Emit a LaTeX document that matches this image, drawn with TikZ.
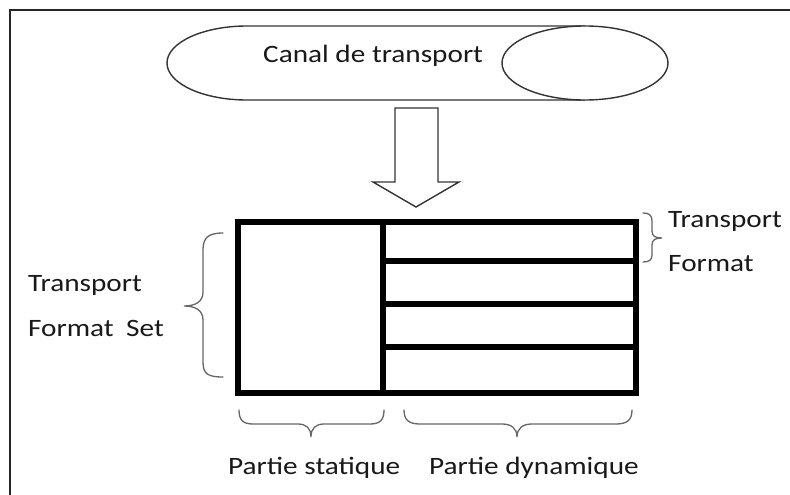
\documentclass[tikz,border=0pt]{standalone}
\usepackage{fontspec}
\setmainfont{Carlito}[FakeStretch=1.17]
\usetikzlibrary{shapes.geometric}
\begin{document}
\begin{tikzpicture}[x=1pt,y=-1pt,
  frameline/.style={line width=2.5pt, draw=black!85},
  outline/.style={line width=1.4pt, draw=black!80},
  boxline/.style={line width=6.2pt, draw=black},
  bracepath/.style={line width=1.3pt, draw=black!60, line cap=round},
  lbl/.style={font=\fontsize{25}{30}\selectfont, inner sep=0pt, anchor=base west, text=black!90},
]
\useasboundingbox (0,0) rectangle (790,495);
\fill[white] (0,0) rectangle (790,495);
% frame
\draw[frameline] (10,495) -- (10,10) -- (790,10);
% cylinder
\draw[outline, fill=white] (585,26) -- (247,26)
  arc[start angle=270, end angle=90, x radius=80, y radius=37] -- (585,100);
\node[ellipse, outline, fill=white, minimum width=166pt, minimum height=74pt, inner sep=0pt] (cap) at (585,63) {};
\node[lbl] (canal) at (263,63) {Canal de transport};
% block arrow
\draw[outline, fill=white] (395,108) -- (438,108) -- (438,182) -- (459,182) -- (416,207) -- (373,182) -- (395,182) -- cycle;
% box
\node[boxline, minimum width=398pt, minimum height=171pt, inner sep=0pt, anchor=north west] (box) at (235,219) {};
\draw[boxline] (383,219) -- (383,390);
\draw[boxline] (383,261) -- (633,261);
\draw[boxline] (383,304) -- (633,304);
\draw[boxline] (383,347) -- (633,347);
% left brace
\draw[bracepath] (223,233) .. controls (208,233) and (203,238) .. (203,250) -- (203,292)
  .. controls (203,302) and (195,306) .. (184,306)
  .. controls (195,306) and (203,310) .. (203,320) -- (203,362)
  .. controls (203,374) and (208,377) .. (223,377);
% right brace
\draw[bracepath] (643,213) .. controls (649,213) and (652,215) .. (652,221) -- (652,231)
  .. controls (652,236) and (655,238) .. (662,238)
  .. controls (655,238) and (652,240) .. (652,245) -- (652,255)
  .. controls (652,260) and (649,262) .. (643,262);
% bottom braces
\draw[bracepath] (239,410) .. controls (239,420) and (243,424) .. (253,424) -- (298,424)
  .. controls (306,424) and (311,428) .. (311,437)
  .. controls (311,428) and (316,424) .. (324,424) -- (370,424)
  .. controls (380,424) and (384,420) .. (384,410);
\draw[bracepath] (404,410) .. controls (404,420) and (409,424) .. (420,424) -- (502,424)
  .. controls (511,424) and (517,428) .. (517,437)
  .. controls (517,428) and (523,424) .. (532,424) -- (616,424)
  .. controls (627,424) and (632,420) .. (632,410);
% labels
\node[lbl] (tf1) at (668,227) {Transport};
\node[lbl] (tf2) at (668,271) {Format};
\node[lbl] (tfs1) at (28,291) {Transport};
\node[lbl] (tfs2) at (28,336) {Format\hspace{0.5em}Set};
\node[lbl] (stat) at (228,474) {Partie statique};
\node[lbl] (dyn) at (429,474) {Partie dynamique};
\end{tikzpicture}
\end{document}
